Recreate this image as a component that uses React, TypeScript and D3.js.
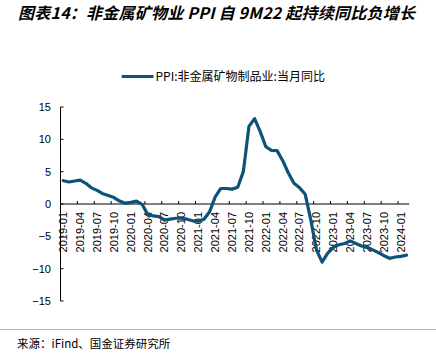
import * as d3 from "d3";
import React from "react";

// PPI: non-metallic mineral products, YoY (%), monthly 2019-01 .. 2024-02
const months = d3.timeMonth
    .range(new Date(2019, 0, 1), new Date(2024, 2, 1))
    .map(d => d3.timeFormat("%Y-%m")(d));

const ppiYoy = [
    3.6, 3.4, 3.55, 3.7, 3.2, 2.5, 2.1, 1.6, 1.3, 1.0, 0.45, 0.1,
    0.25, 0.45, -0.05, -1.6, -1.85, -1.95, -2.5, -2.35, -2.2, -2.2, -2.35, -2.6,
    -2.65, -2.35, -1.2, 1.1, 2.4, 2.4, 2.3, 2.6, 5.0, 12.0, 13.2, 11.2,
    8.85, 8.3, 8.25, 6.7, 4.8, 3.2, 2.5, 1.5, -2.5, -7.1, -9.0, -7.6,
    -6.7, -6.3, -6.1, -5.7, -6.1, -6.5, -6.7, -7.1, -7.5, -8.0, -8.4, -8.2,
    -8.1, -7.9
];

const yTicks = [15, 10, 5, 0, -5, -10, -15];

const title = "图表14：非金属矿物业 PPI 自 9M22 起持续同比负增长";
const seriesName = "PPI:非金属矿物制品业:当月同比";
const source = "来源：iFind、国金证券研究所";

const lineColor = "#0b5378";
const cjk = "'Noto Sans CJK SC', sans-serif";
const latin = "'Liberation Sans', Arial, sans-serif";

export default function App() {
    const width = 436;
    const height = 354;

    const x = d3.scaleBand().domain(months).range([60.5, 409.3]).padding(0);
    const y = d3.scaleLinear().domain([-15, 15]).range([301, 107]);
    const bw = x.bandwidth();

    const line = d3
        .line<number>()
        .x((d, i) => x(months[i])! + bw / 2)
        .y(d => y(d));

    const tickMonths = months.filter((m, i) => i % 3 === 0);

    return (
        <svg
            width={width}
            height={height}
            style={{position: "absolute", left: 0, top: 0, background: "#fff"}}
        >
            <text
                x={18}
                y={19}
                fontFamily={cjk}
                fontSize={16}
                fontWeight="bold"
                fontStyle="italic"
                fill="#000"
                textLength={397}
                lengthAdjust="spacing"
            >
                {title}
            </text>

            {/* legend */}
            <line x1={121.7} x2={153.5} y1={76.5} y2={76.5} stroke={lineColor} strokeWidth={3}/>
            <text x={155.5} y={76.5} dy="0.35em" fontFamily={cjk} fontSize={12} fill="#000">
                {seriesName}
            </text>

            {/* y axis */}
            <line x1={x.range()[0]} x2={x.range()[0]} y1={y(15)} y2={y(-15)} stroke="#000"/>
            {yTicks.map(t => (
                <g key={t} transform={`translate(0,${y(t)})`}>
                    <line x1={x.range()[0]} x2={x.range()[0] + 3} stroke="#000"/>
                    <text
                        x={51}
                        dy="0.35em"
                        textAnchor="end"
                        fontFamily={latin}
                        fontSize={11}
                        fill="#000"
                    >
                        {d3.format("")(t)}
                    </text>
                </g>
            ))}

            {/* x axis */}
            <line x1={x.range()[0]} x2={x.range()[1]} y1={y(0)} y2={y(0)} stroke="#000"/>
            {tickMonths.map(m => (
                <g key={m}>
                    <line x1={x(m)} x2={x(m)} y1={y(0)} y2={y(0) - 3} stroke="#000"/>
                    <text
                        transform={`translate(${x(m)! + bw / 2},${y(0) + 8}) rotate(-90)`}
                        dy="0.35em"
                        textAnchor="end"
                        fontFamily={latin}
                        fontSize={11}
                        fill="#000"
                    >
                        {m}
                    </text>
                </g>
            ))}

            <path
                d={line(ppiYoy)!}
                fill="none"
                stroke={lineColor}
                strokeWidth={3.2}
                strokeLinejoin="round"
                strokeLinecap="round"
            />

            <line x1={0} x2={width} y1={329.5} y2={329.5} stroke="#a9bccb" strokeWidth={1}/>
            <text x={17} y={348} fontFamily={cjk} fontSize={11.5} fill="#000">
                {source}
            </text>
        </svg>
    );
}
